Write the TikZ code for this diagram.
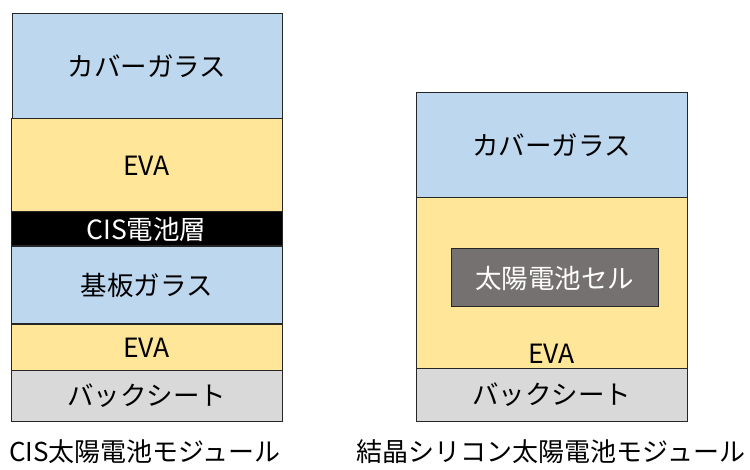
\documentclass[tikz,border=0pt]{standalone}
\usepackage{fontspec}
\setmainfont{Noto Sans CJK JP}
\definecolor{glass}{HTML}{BDD7EE}
\definecolor{eva}{HTML}{FFE699}
\definecolor{back}{HTML}{D9D9D9}
\definecolor{cell}{HTML}{767171}
\definecolor{edge}{HTML}{262626}
\tikzset{
  layer/.style={draw=edge, line width=1pt, rectangle, inner sep=0pt, font=\fontsize{26.5}{30}\selectfont},
  modcap/.style={inner sep=0pt, font=\fontsize{26}{30}\selectfont},
}
\begin{document}
\begin{tikzpicture}[x=1pt,y=-1pt]
\useasboundingbox (0,0) rectangle (750,470);
% left module
\node[layer, fill=glass, minimum width=270pt, minimum height=105pt] (lcover) at (147,66.5) {カバーガラス};
\node[layer, fill=eva, minimum width=271pt, minimum height=93pt] (leva) at (146.5,165.5) {EVA};
\node[layer, fill=black, text=white, minimum width=271pt, minimum height=34pt] (lcis) at (146.5,229) {CIS電池層};
\node[layer, fill=glass, minimum width=271pt, minimum height=77pt] (lsub) at (146.5,285) {基板ガラス};
\node[layer, fill=eva, minimum width=271pt, minimum height=46pt] (leva2) at (146.5,348) {EVA};
\node[layer, fill=back, minimum width=271pt, minimum height=50pt] (lback) at (146.5,396) {バックシート};
\node[modcap] (lcap) at (145,452) {CIS太陽電池モジュール};
% right module
\node[layer, fill=glass, minimum width=271pt, minimum height=105pt] (rcover) at (551.5,145.5) {カバーガラス};
\node[layer, fill=eva, minimum width=271pt, minimum height=171pt] (reva) at (551.5,283.5) {};
\node[layer, fill=cell, text=white, minimum width=207pt, minimum height=58pt] (rcell) at (554.5,278) {太陽電池セル};
\node[font=\fontsize{26.5}{30}\selectfont, inner sep=0pt] (revalabel) at (551.5,354) {EVA};
\node[layer, fill=back, minimum width=271pt, minimum height=52pt] (rback) at (551.5,395) {バックシート};
\node[modcap] (rcap) at (551,452) {結晶シリコン太陽電池モジュール};
\end{tikzpicture}
\end{document}
